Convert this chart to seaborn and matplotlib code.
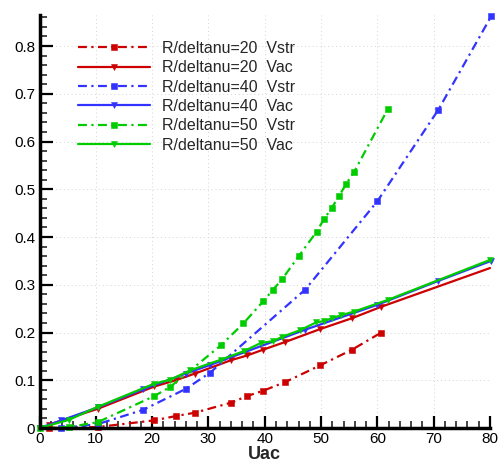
import numpy as np
import pandas as pd
import seaborn as sns
import matplotlib
matplotlib.use("Agg")
import matplotlib.pyplot as plt
from matplotlib.ticker import MultipleLocator, FuncFormatter

# R/deltanu = 20
u_r20 = [1.7, 10.3, 20.4, 24.2, 27.6, 34.0, 36.9, 39.7, 43.6, 49.8, 55.5, 60.7]
vstr_r20 = [0.0, 0.002, 0.016, 0.025, 0.032, 0.053, 0.067, 0.078, 0.096, 0.131, 0.164, 0.200]
u_r20_ac = [1.7, 10.3, 20.4, 24.2, 27.6, 34.0, 36.9, 39.7, 43.6, 49.8, 55.5, 60.7, 80.0]
vac_r20 = [0.007, 0.040, 0.087, 0.100, 0.114, 0.142, 0.152, 0.164, 0.180, 0.207, 0.230, 0.254, 0.335]

# R/deltanu = 40
u_r40 = [3.9, 10.3, 18.4, 26.0, 30.3, 47.2, 60.0, 70.8, 80.2]
vstr_r40 = [0.0, 0.008, 0.038, 0.082, 0.116, 0.290, 0.475, 0.666, 0.862]
u_r40_ac = [0.0, 3.9, 10.3, 18.4, 26.0, 30.3, 47.2, 60.0, 70.8, 80.2]
vac_r40 = [0.0, 0.016, 0.043, 0.081, 0.114, 0.132, 0.206, 0.258, 0.308, 0.350]

# R/deltanu = 50
u_r50 = [0.0, 5.2, 10.3, 20.4, 23.2, 32.2, 36.2, 39.7, 41.5, 43.1, 46.1,
         49.2, 50.5, 51.9, 53.2, 54.5, 55.9, 61.9]
vstr_r50 = [0.0, 0.002, 0.012, 0.067, 0.086, 0.173, 0.219, 0.265, 0.290, 0.312,
            0.361, 0.411, 0.437, 0.461, 0.486, 0.512, 0.537, 0.669]
u_r50_ac = [0.0, 5.2, 10.3, 20.4, 23.2, 26.8, 32.2, 36.3, 39.3, 41.5, 43.1, 46.3,
            49.1, 50.5, 52.0, 53.5, 55.9, 61.8, 80.0]
vac_r50 = [0.0, 0.017, 0.044, 0.093, 0.101, 0.121, 0.143, 0.161, 0.178, 0.182, 0.191,
           0.205, 0.221, 0.224, 0.230, 0.236, 0.244, 0.268, 0.352]

red = "#cc0000"
blue = "#3333ff"
green = "#00cc00"

sns.set_style("white")
plt.rcParams["font.family"] = ["Liberation Sans", "DejaVu Sans"]

fig = plt.figure(figsize=(4.99, 4.63), dpi=100)
ax = fig.add_axes([39.5 / 499, (463 - 428) / 463, (490 - 39.5) / 499, (428 - 15) / 463])

dashdot = (0, (4, 2, 1, 2))
lw = 1.6

series = [
    (u_r20, vstr_r20, red, "s", dashdot, "R/deltanu=20  Vstr", None),
    (u_r20_ac, vac_r20, red, "v", "-", "R/deltanu=20  Vac", list(range(len(u_r20_ac) - 1))),
    (u_r40, vstr_r40, blue, "s", dashdot, "R/deltanu=40  Vstr", None),
    (u_r40_ac, vac_r40, blue, "v", "-", "R/deltanu=40  Vac", None),
    (u_r50, vstr_r50, green, "s", dashdot, "R/deltanu=50  Vstr", None),
    (u_r50_ac, vac_r50, green, "v", "-", "R/deltanu=50  Vac", None),
]

for xs, ys, col, mk, ls, lab, mev in series:
    df = pd.DataFrame({"Uac": xs, "V": ys})
    kw = {}
    if mev is not None:
        kw["markevery"] = mev
    sns.lineplot(data=df, x="Uac", y="V", ax=ax, color=col, marker=mk,
                 linestyle=ls, linewidth=lw, markersize=5 if mk == "s" else 5,
                 markeredgecolor=col, markeredgewidth=0.4, label=lab,
                 sort=False, estimator=None, clip_on=False, **kw)

ax.set_xlim(0, 80)
ax.set_ylim(0, 0.865)
ax.xaxis.set_major_locator(MultipleLocator(10))
ax.xaxis.set_minor_locator(MultipleLocator(2))
ax.yaxis.set_major_locator(MultipleLocator(0.1))
ax.yaxis.set_minor_locator(MultipleLocator(0.02))
ax.yaxis.set_major_formatter(FuncFormatter(lambda v, p: "0" if abs(v) < 1e-9 else f"{v:.1f}"))

ax.grid(True, which="major", linestyle=(0, (1, 3)), color="#d4d4d4", linewidth=0.7)
ax.tick_params(axis="both", which="major", direction="in", length=9, width=1.6,
               labelsize=11, colors="black", pad=3)
ax.tick_params(axis="both", which="minor", direction="in", length=5, width=1.2)
ax.tick_params(axis="both", which="both", bottom=True, left=True, top=False, right=False)

for side in ["top", "right"]:
    ax.spines[side].set_visible(False)
for side in ["left", "bottom"]:
    ax.spines[side].set_linewidth(2.5)
    ax.spines[side].set_color("black")

ax.set_xlabel("Uac", fontsize=13, fontweight="bold", labelpad=0)
ax.set_ylabel("")

leg = ax.legend(loc="upper left", bbox_to_anchor=(0.085, 0.937), frameon=False,
                fontsize=11.5, handlelength=4.5, handletextpad=0.75,
                labelspacing=0.27, borderpad=0, borderaxespad=0, numpoints=1)

fig.savefig("out.png", dpi=100)
